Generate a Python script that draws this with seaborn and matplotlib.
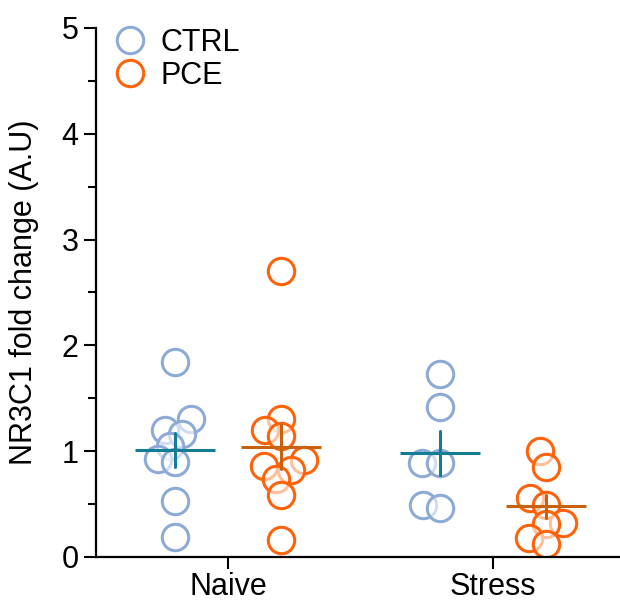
import matplotlib
matplotlib.use("Agg")
import matplotlib.pyplot as plt
from matplotlib.lines import Line2D
from matplotlib.ticker import MultipleLocator
import pandas as pd
import seaborn as sns

# groups / categories
conditions = ["Naive", "Stress"]
groups = ["CTRL", "PCE"]

# NR3C1 fold change
ctrl_naive = [1.84, 1.30, 1.20, 1.16, 1.05, 0.93, 0.90, 0.53, 0.19]
pce_naive = [2.70, 1.30, 1.20, 1.14, 0.92, 0.86, 0.82, 0.74, 0.59, 0.16]
ctrl_stress = [1.73, 1.42, 0.89, 0.89, 0.49, 0.46]
pce_stress = [1.00, 0.85, 0.56, 0.49, 0.32, 0.31, 0.18, 0.12]

point_colors = {"CTRL": "#8eaad6", "PCE": "#ff6208"}
mean_colors = {"CTRL": "#137d96", "PCE": "#c8620e"}

# long table for seaborn
rows = []
for cond, grp, vals in [("Naive", "CTRL", ctrl_naive), ("Naive", "PCE", pce_naive),
                        ("Stress", "CTRL", ctrl_stress), ("Stress", "PCE", pce_stress)]:
    for v in vals:
        rows.append({"condition": cond, "group": grp, "fold": v})
df = pd.DataFrame(rows)

sns.set_theme(style="ticks")
plt.rcParams["font.family"] = ["Liberation Sans", "DejaVu Sans"]
plt.rcParams["text.color"] = "black"
plt.rcParams["axes.labelcolor"] = "black"

fig = plt.figure(figsize=(6.2, 6.02), dpi=100)
ax = fig.add_axes([0.1548, 0.0748, 0.853, 0.8787])
ax.set_xlim(-0.5, 1.5)
ax.set_ylim(0, 5)

# swarm laid out with a smaller marker so circles overlap a bit, like the original
sns.swarmplot(data=df, x="condition", y="fold", hue="group", order=conditions,
              hue_order=groups, palette=point_colors, dodge=True, size=12,
              legend=False, ax=ax)
ax.set_xlim(-0.5, 1.5)
ax.set_ylim(0, 5)
fig.canvas.draw()
# open circles: white semi-transparent face, coloured edge
for coll in ax.collections:
    if "draw" in coll.__dict__:
        del coll.__dict__["draw"]
    fc = coll.get_facecolor()
    if len(fc):
        coll.set_edgecolor(fc[0][:3])
        coll.set_facecolor((1, 1, 1, 0.6))
        coll.set_linewidth(2.2)
        coll.set_sizes([19 ** 2])
        coll.set_zorder(2)

# mean +/- SEM
sns.pointplot(data=df, x="condition", y="fold", hue="group", order=conditions,
              hue_order=groups, palette=mean_colors, dodge=0.4, errorbar="se",
              linestyle="none", marker="_", markersize=58, markeredgewidth=2.2,
              err_kws={"linewidth": 2.2}, legend=False, ax=ax)
for line in ax.lines:
    line.set_zorder(5)

ax.set_xlim(-0.5, 1.5)
ax.set_ylim(0, 5)
ax.yaxis.set_major_locator(MultipleLocator(1))
ax.yaxis.set_minor_locator(MultipleLocator(0.5))
ax.set_xlabel("")
ax.set_ylabel("NR3C1 fold change (A.U)", fontsize=22, labelpad=16)
ax.tick_params(axis="both", which="major", labelsize=22, length=8.5, width=1.5,
               color="black", labelcolor="black", pad=4)
ax.tick_params(axis="x", which="major", pad=2)
ax.tick_params(axis="y", which="minor", length=5.5, width=1.5, color="black")
for side in ["left", "bottom"]:
    ax.spines[side].set_linewidth(1.6)
    ax.spines[side].set_color("black")
sns.despine(ax=ax)

handles = [Line2D([], [], marker="o", linestyle="none", markersize=19,
                  markerfacecolor="white", markeredgecolor=point_colors[g],
                  markeredgewidth=2.2, label=g) for g in groups]
ax.legend(handles=handles, loc="upper left", bbox_to_anchor=(0.032, 1.0),
          frameon=False, fontsize=22, handlelength=1.1, handletextpad=0.45,
          borderpad=0, borderaxespad=0, labelspacing=0.1)

fig.savefig("out.png", dpi=100)
